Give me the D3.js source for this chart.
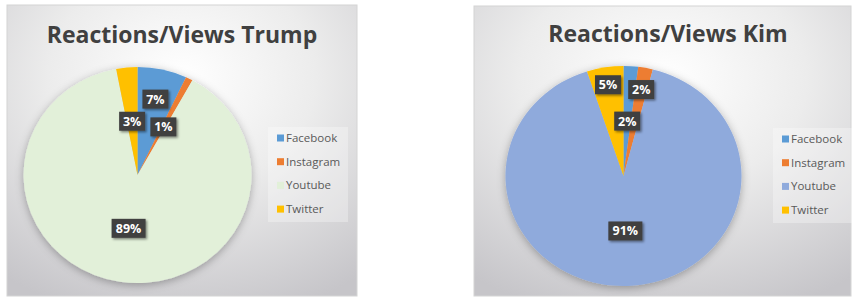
<!DOCTYPE html>
<html>
<head>
<meta charset="utf-8">
<script src="https://cdn.jsdelivr.net/npm/d3@7"></script>
<style>
  body { margin: 0; background: #fff; }
  text { font-family: 'Open Sans', 'Noto Sans', sans-serif; }
</style>
</head>
<body>
<script>
// data
const categories = ['Facebook', 'Instagram', 'Youtube', 'Twitter'];
const trumpValues = [7, 1, 89, 3];
const kimValues = [2, 2, 91, 5];
const titles = ['Reactions/Views Trump', 'Reactions/Views Kim'];

const baseColors = ['#5B9BD5', '#ED7D31', null, '#FFC000'];
const youtubeColors = ['#E2F0D9', '#8FAADC'];

let w = 853, h = 298;

// layout per panel
const panels = [
  { x: 7, y: 5, w: 350, h: 291, titleX: 175, titleY: 38, cx: 130.5, cy: 170, rx: 114, ry: 108,
    legX: 261, legY: 122, labelR: [0.72, 0.5, 0.5, 0.5], values: trumpValues },
  { x: 474, y: 6, w: 377, h: 290, titleX: 194, titleY: 36, cx: 149.5, cy: 170, rx: 118, ry: 110,
    legX: 299, legY: 122, labelR: [0.5, 0.8, 0.5, 0.84], values: kimValues }
];

let svg = d3.select('body')
  .append('svg')
  .attr('width', w)
  .attr('height', h);

let defs = svg.append('defs');

let grad = defs.append('radialGradient')
  .attr('id', 'bg')
  .attr('cx', '50%').attr('cy', '25%').attr('r', '85%');
grad.append('stop').attr('offset', '0%').attr('stop-color', '#ffffff');
grad.append('stop').attr('offset', '45%').attr('stop-color', '#ececec');
grad.append('stop').attr('offset', '100%').attr('stop-color', '#c6c5c9');

let shadow = defs.append('filter')
  .attr('id', 'pieShadow')
  .attr('x', '-20%').attr('y', '-20%').attr('width', '140%').attr('height', '140%');
shadow.append('feDropShadow')
  .attr('dx', 0).attr('dy', 2)
  .attr('stdDeviation', 4)
  .attr('flood-color', '#000')
  .attr('flood-opacity', 0.3);

let boxShadow = defs.append('filter')
  .attr('id', 'boxShadow')
  .attr('x', '-30%').attr('y', '-30%').attr('width', '160%').attr('height', '160%');
boxShadow.append('feDropShadow')
  .attr('dx', 1.5).attr('dy', 1.5)
  .attr('stdDeviation', 1.2)
  .attr('flood-color', '#000')
  .attr('flood-opacity', 0.45);

panels.forEach((p, pi) => {
  const colors = baseColors.map((c, i) => c || youtubeColors[pi]);
  const color = d3.scaleOrdinal().domain(categories).range(colors);

  let g = svg.append('g').attr('transform', `translate(${p.x},${p.y})`);

  g.append('rect')
    .attr('width', p.w)
    .attr('height', p.h)
    .attr('fill', 'url(#bg)')
    .attr('stroke', '#d4d4d4')
    .attr('stroke-width', 1);

  g.append('text')
    .attr('x', p.titleX)
    .attr('y', p.titleY)
    .attr('text-anchor', 'middle')
    .attr('font-size', '23px')
    .attr('font-weight', 'bold')
    .attr('fill', '#404040')
    .text(titles[pi]);

  const data = categories.map((c, i) => ({ name: c, value: p.values[i], idx: i }));
  const pie = d3.pie().sort(null).value(d => d.value);
  const arcs = pie(data);
  const arc = d3.arc().innerRadius(0).outerRadius(p.ry);
  const sx = p.rx / p.ry;

  let pieG = g.append('g')
    .attr('transform', `translate(${p.cx},${p.cy})`);

  pieG.append('g')
    .attr('filter', 'url(#pieShadow)')
    .attr('transform', `scale(${sx},1)`)
    .selectAll('path')
    .data(arcs)
    .enter()
    .append('path')
    .attr('d', arc)
    .attr('fill', d => color(d.data.name));

  // data labels
  let labels = pieG.selectAll('g.lbl')
    .data(arcs)
    .enter()
    .append('g')
    .attr('class', 'lbl')
    .attr('transform', d => {
      const r = p.ry * p.labelR[d.data.idx];
      const c = d3.arc().innerRadius(r).outerRadius(r).centroid(d);
      return `translate(${c[0] * sx},${c[1]})`;
    });

  labels.each(function(d) {
    const s = d3.select(this);
    const txt = d.data.value + '%';
    const bw = txt.length * 8 + 10;
    s.append('rect')
      .attr('x', -bw / 2)
      .attr('y', -9.5)
      .attr('width', bw)
      .attr('height', 19)
      .attr('fill', '#404040')
      .attr('filter', 'url(#boxShadow)');
    s.append('text')
      .attr('text-anchor', 'middle')
      .attr('y', 4.5)
      .attr('font-size', '12.5px')
      .attr('font-weight', 'bold')
      .attr('fill', '#fff')
      .text(txt);
  });

  // legend
  let leg = g.append('g').attr('transform', `translate(${p.legX},${p.legY})`);
  leg.append('rect')
    .attr('width', 80)
    .attr('height', 95)
    .attr('fill', '#ffffff')
    .attr('fill-opacity', 0.3);

  let items = leg.selectAll('g.item')
    .data(categories)
    .enter()
    .append('g')
    .attr('class', 'item')
    .attr('transform', (d, i) => `translate(9,${11 + i * 23.7})`);

  items.append('rect')
    .attr('x', 0)
    .attr('y', -3.5)
    .attr('width', 7)
    .attr('height', 7)
    .attr('fill', d => color(d));

  items.append('text')
    .attr('x', 9)
    .attr('y', 4)
    .attr('font-size', '11.5px')
    .attr('fill', '#595959')
    .text(d => d);
});
</script>
</body>
</html>
